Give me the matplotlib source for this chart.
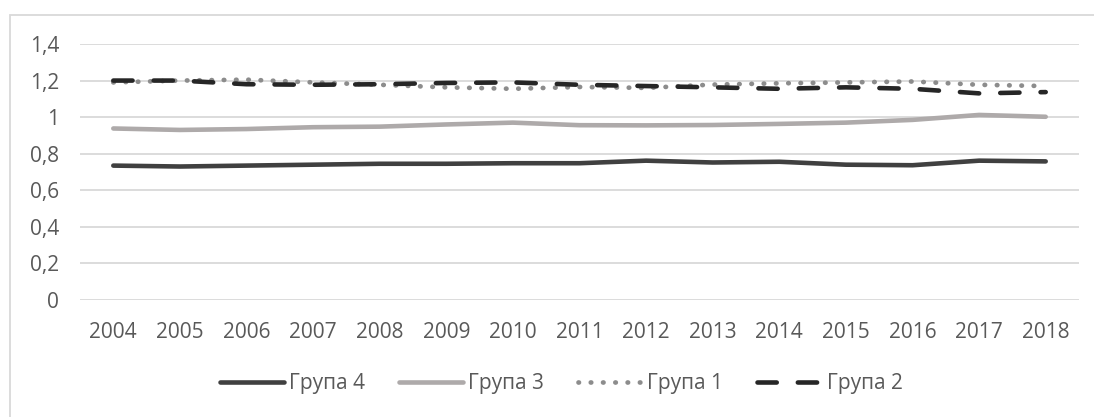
import matplotlib
matplotlib.use('Agg')
import matplotlib.pyplot as plt
from matplotlib.patches import Rectangle

years = ['2004', '2005', '2006', '2007', '2008', '2009', '2010', '2011',
         '2012', '2013', '2014', '2015', '2016', '2017', '2018']

grupa4 = [0.735, 0.730, 0.735, 0.740, 0.745, 0.745, 0.748, 0.748,
          0.762, 0.752, 0.756, 0.740, 0.737, 0.762, 0.758]
grupa3 = [0.938, 0.930, 0.935, 0.945, 0.948, 0.960, 0.970, 0.956,
          0.955, 0.957, 0.963, 0.970, 0.985, 1.012, 1.002]
grupa1 = [1.190, 1.200, 1.205, 1.190, 1.177, 1.163, 1.155, 1.165,
          1.160, 1.178, 1.185, 1.190, 1.195, 1.177, 1.170]
grupa2 = [1.200, 1.200, 1.180, 1.177, 1.180, 1.187, 1.190, 1.177,
          1.170, 1.163, 1.155, 1.163, 1.155, 1.130, 1.137]

yticks = [0, 0.2, 0.4, 0.6, 0.8, 1.0, 1.2, 1.4]
ytick_labels = ['0', '0,2', '0,4', '0,6', '0,8', '1', '1,2', '1,4']

plt.rcParams['font.family'] = ['Open Sans', 'DejaVu Sans']
txt = '#595959'

fig = plt.figure(figsize=(10.94, 4.17), dpi=100)
# chart frame (only top/left edges fall inside the picture)
fig.patches.append(Rectangle((10 / 1094, -0.1), 1.2, 1 - 15 / 417 + 0.1,
                             transform=fig.transFigure, fill=False,
                             edgecolor='#D9D9D9', linewidth=1.3))

ax = fig.add_axes([80 / 1094, 1 - 300 / 417, 999 / 1094, 256 / 417])
x = range(len(years))

ax.plot(x, grupa4, color='#404040', lw=3.3, solid_capstyle='round', label='Група 4', zorder=3)
ax.plot(x, grupa3, color='#AEAAAA', lw=3.3, solid_capstyle='round', label='Група 3', zorder=3)
ax.plot(x, grupa1, color='#8C8C8C', lw=3.4, linestyle=(0, (0.1, 2.5)),
        dash_capstyle='round', label='Група 1', zorder=3)
ax.plot(x, grupa2, color='#262626', lw=3.3, linestyle=(0, (4.2, 4.6)),
        dash_capstyle='round', label='Група 2', zorder=4)

ax.set_xlim(-0.5, len(years) - 0.5)
ax.set_ylim(0, 1.4)
ax.set_yticks(yticks)
ax.set_yticklabels(ytick_labels)
ax.set_xticks(list(x))
ax.set_xticklabels(years)
ax.grid(axis='y', color='#D9D9D9', lw=1.3)
ax.set_axisbelow(True)
for s in ax.spines.values():
    s.set_visible(False)
ax.tick_params(axis='both', length=0, labelsize=15, colors=txt)
ax.tick_params(axis='y', pad=15)
ax.tick_params(axis='x', pad=16)

leg = fig.legend(loc='center', bbox_to_anchor=(561 / 1094, 1 - 384 / 417),
                 ncol=4, frameon=False, fontsize=15, handlelength=3.1,
                 handletextpad=0.25, columnspacing=1.6)
for t in leg.get_texts():
    t.set_color(txt)

fig.savefig('out.png', dpi=100)
